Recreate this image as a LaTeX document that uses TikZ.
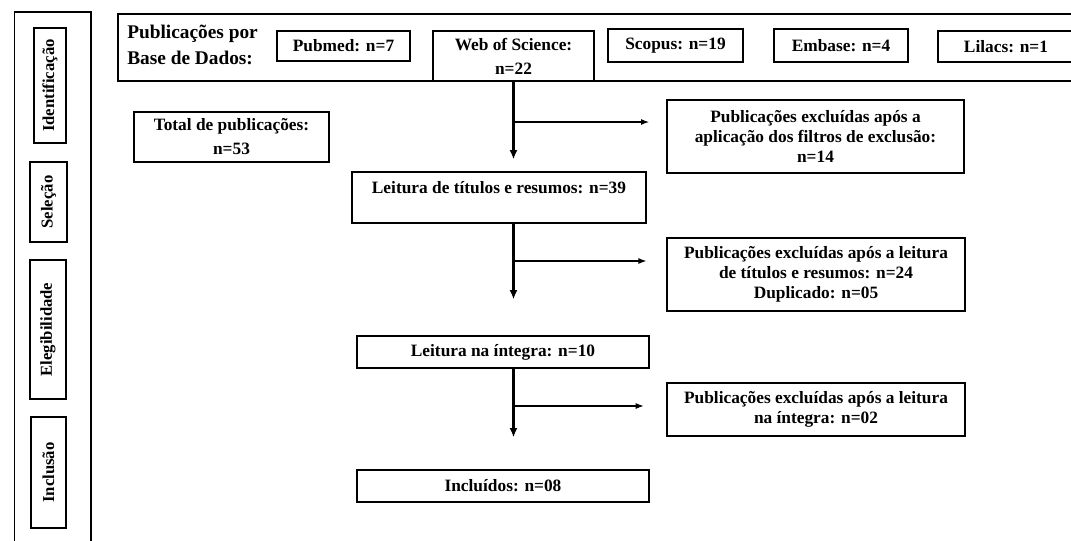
\documentclass[tikz,border=0pt]{standalone}
\usepackage{fontspec}
\setmainfont{Liberation Serif}
\usepackage{tikz}
\usetikzlibrary{arrows.meta}
\newcommand{\corpo}{\bfseries\fontsize{13}{15}\selectfont}
\tikzset{
  caixa/.style 2 args={draw, line width=1pt, minimum width=#1*0.75pt, minimum height=#2*0.75pt, inner sep=0pt, align=center, font=\corpo},
  largo/.style={font=\bfseries\fontsize{13}{18}\selectfont},
  etapa/.style 2 args={draw, line width=1pt, rotate=90, minimum width=#2*0.75pt, minimum height=#1*0.75pt, inner sep=0pt, font=\bfseries\fontsize{12.5}{15}\selectfont},
  seta/.style={line width=1.8pt, -{Latex[length=7pt,width=6pt]}},
  ramo/.style={line width=0.8pt, -{Latex[length=6pt,width=4.5pt]}}
}
\begin{document}
\begin{tikzpicture}[x=0.75pt, y=-0.75pt]
            \useasboundingbox (0,0) rectangle (1071,540);
            \draw [line width=1pt] (14.5,545) -- (14.5,12) -- (91,12) -- (91,545);
            \node [etapa={32}{115}] (ident) at (50,85.5) {Identificação};
            \node [etapa={37}{80}] (selecao) at (48.5,202) {Seleção};
            \node [etapa={36}{139}] (elegib) at (48,329.5) {Elegibilidade};
            \node [etapa={35}{111}] (inclusao) at (48.5,472.5) {Inclusão};
            \draw [line width=1pt] (1080,14) -- (118,14) -- (118,81) -- (1080,81);
            \node [anchor=west, align=left, inner sep=0pt, font=\bfseries\fontsize{14.5}{20}\selectfont] (titulo) at (127,45) {Publicações por\\Base de Dados:};
            \node [caixa={133}{30}] (pubmed) at (343.5,46) {Pubmed: n=7};
            \node [caixa={161}{50}, largo] (wos) at (513.5,56) {Web of Science:\\n=22};
            \node [caixa={135}{33}] (scopus) at (675.5,45.5) {Scopus: n=19};
            \node [caixa={134}{33}] (embase) at (841,45.5) {Embase: n=4};
            \node [caixa={136}{31}] (lilacs) at (1006,46.5) {Lilacs: n=1};
            \node [caixa={195}{50}, largo] (total) at (231.5,137) {Total de publicações:\\n=53};
            \node [caixa={297}{73}] (excl1) at (815.5,136.5) {Publicações excluídas após a\\aplicação dos filtros de exclusão:\\n=14};
            \node [caixa={294}{51}] (leitura1) at (499,197.5) {Leitura de títulos e resumos: n=39\\~};
            \node [caixa={298}{73}] (excl2) at (816,274.5) {Publicações excluídas após a leitura\\de títulos e resumos: n=24\\Duplicado: n=05};
            \node [caixa={292}{32}] (leitura2) at (503,352) {Leitura na íntegra: n=10};
            \node [caixa={298}{53}] (excl3) at (816,409.5) {Publicações excluídas após a leitura\\na íntegra: n=02};
            \node [caixa={292}{32}] (incluidos) at (503,486) {Incluídos: n=08};
            \coordinate (r1) at (513,122);
            \coordinate (r2) at (513,261);
            \coordinate (r3) at (513,406);
            \draw [seta, shorten >=9pt] (wos.south) -- (wos.south |- leitura1.north);
            \draw [ramo, shorten >=13pt] (r1) -- (r1 -| excl1.west);
            \draw [seta, shorten >=27pt] (wos.south |- leitura1.south) -- (wos.south |- leitura2.north);
            \draw [ramo, shorten >=15pt] (r2) -- (r2 -| excl2.west);
            \draw [seta, shorten >=24pt] (wos.south |- leitura2.south) -- (wos.south |- incluidos.north);
            \draw [ramo, shorten >=17pt] (r3) -- (r3 -| excl3.west);
\end{tikzpicture}
\end{document}
